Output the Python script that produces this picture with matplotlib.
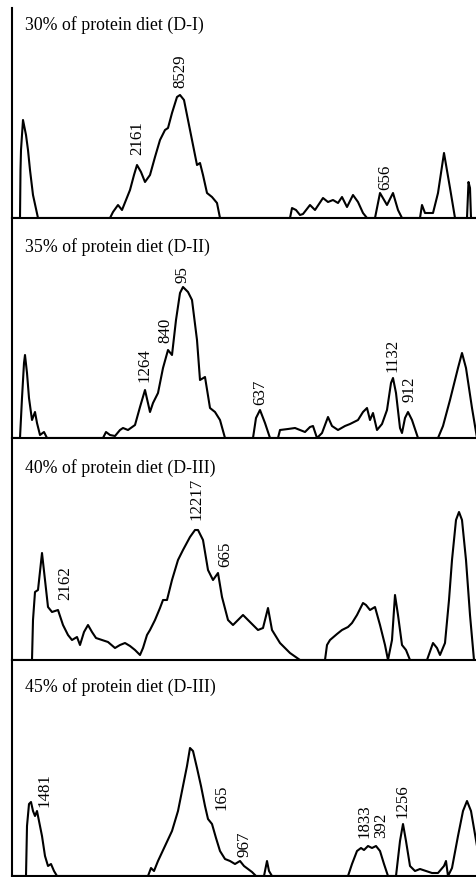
import numpy as np
import matplotlib
matplotlib.use("Agg")
from matplotlib import pyplot as plt

# retention position (px along the run) and trace height for each diet
x1 = [12, 20, 20.5, 21, 23, 26, 28, 30, 33, 38,
      110, 113, 118, 122, 126, 130, 134, 137, 141, 145, 150, 155, 160, 165, 168, 172, 177, 180, 184, 190,
      197, 200, 203, 207, 212, 217, 220,
      290, 292, 296, 300, 303, 310, 315, 323, 328, 333, 338, 342, 347, 353, 358, 363, 367,
      375, 380, 387, 393, 398, 402,
      420, 422, 425, 433, 438, 444, 450, 455,
      467, 468.5, 470, 471, 477]
y1 = [0, 0, 48, 68, 98, 83, 68, 48, 23, 0,
      0, 6, 13, 8, 18, 28, 43, 53, 46, 36, 43, 61, 78, 88, 90, 105, 121, 123, 118, 88,
      53, 55, 43, 25, 21, 15, 0,
      0, 10, 8, 3, 4, 13, 8, 20, 16, 18, 15, 21, 11, 23, 16, 5, 0,
      0, 25, 13, 25, 8, 0,
      0, 13, 5, 5, 25, 65, 30, 0,
      0, 36, 30, 0, 0]

x2 = [12, 20, 22, 24, 25, 27, 29, 32, 35, 37, 40, 44, 47,
      103, 106, 110, 115, 120, 123, 128, 135, 140, 145, 150, 153, 158, 163, 168, 172, 176, 180, 183, 188,
      192, 197, 200, 205, 210, 215, 220, 225,
      253, 256, 260, 265, 270,
      278, 280, 288, 295, 300, 305, 310, 313, 317,
      322, 328, 332, 338, 345, 350, 358, 363, 367, 370, 373, 377, 382, 387, 391, 393, 396, 400, 402, 405,
      408, 412, 418,
      438, 443, 450, 458, 462, 466, 472, 477]
y2 = [0, 0, 40, 75, 83, 65, 40, 18, 26, 15, 3, 6, 0,
      0, 6, 3, 2, 8, 10, 8, 13, 31, 48, 26, 35, 45, 70, 88, 83, 118, 145, 151, 146,
      138, 98, 58, 61, 30, 26, 18, 0,
      0, 20, 28, 15, 0,
      0, 8, 9, 10, 8, 6, 11, 12, 0,
      5, 21, 12, 8, 12, 14, 18, 26, 30, 18, 25, 8, 14, 28, 55, 60, 45, 10, 5, 20,
      26, 18, 0,
      0, 12, 38, 70, 85, 70, 30, 0]

x3 = [12, 32, 33, 35, 38, 42, 45, 48, 52, 58, 63, 68, 72, 77, 80, 84, 88, 92, 96, 102, 108, 115, 120,
      125, 130, 135, 140, 143, 147, 150, 155, 160, 163, 167, 172, 178, 183, 190, 195, 198, 203, 208, 213,
      218, 222, 228, 233, 238, 243, 250, 258, 263, 268, 272, 280, 290, 300,
      325, 327, 330, 337, 342, 348, 352, 357, 363, 366, 370, 375, 380, 385, 388,
      392, 395, 398, 402, 406, 410,
      427, 433, 437, 440, 445, 449, 452, 456, 459, 462, 466, 470, 474, 477]
y3 = [0, 0, 40, 68, 70, 107, 80, 53, 48, 50, 35, 25, 20, 23, 15, 28, 35, 28, 22, 20, 18, 12, 15,
      17, 14, 10, 5, 12, 25, 30, 40, 52, 60, 60, 80, 100, 110, 123, 130, 130, 120, 90, 80,
      87, 63, 40, 35, 40, 45, 38, 30, 32, 52, 30, 17, 7, 0,
      0, 15, 20, 26, 30, 33, 37, 45, 57, 55, 50, 53, 35, 15, 0,
      20, 65, 45, 15, 10, 0,
      0, 17, 12, 5, 17, 60, 100, 140, 148, 140, 100, 45, 0, 0]

x4 = [12, 26, 27, 29, 31, 33, 35, 37, 39, 42, 45, 48, 51, 54, 57,
      148, 151, 154, 158, 165, 172, 178, 183, 187, 190, 193, 197, 201, 205, 208, 212, 216, 220, 225, 230,
      235, 240, 244, 248, 252, 256,
      264, 267, 269, 272,
      348, 352, 357, 361, 364, 368, 372, 376, 380, 384, 388,
      396, 400, 403, 406, 410, 415, 420, 426, 432, 438, 444, 446, 448, 452, 458, 463, 467, 471, 477]
y4 = [0, 0, 50, 72, 74, 65, 60, 65, 55, 40, 20, 10, 12, 5, 0,
      0, 8, 5, 15, 30, 45, 65, 90, 110, 128, 125, 108, 90, 70, 57, 52, 38, 25, 17, 15,
      12, 15, 10, 7, 4, 0,
      0, 15, 5, 0,
      0, 12, 25, 28, 26, 30, 28, 30, 25, 12, 0,
      0, 35, 52, 35, 10, 5, 7, 5, 3, 3, 10, 15, 0, 8, 40, 65, 75, 65, 30]

titles = ["30% of protein diet (D-I)", "35% of protein diet (D-II)",
          "40% of protein diet (D-III)", "45% of protein diet (D-III)"]

# peak annotations: text, position, height of the label's lower end
peaks1 = [("2161", 137, 63), ("8529", 180, 130), ("656", 385, 28)]
peaks2 = [("1264", 145, 56), ("840", 165, 95), ("95", 183, 155), ("637", 260, 33),
          ("1132", 393, 66), ("912", 410, 36)]
peaks3 = [("2162", 65, 60), ("12217", 197, 140), ("665", 225, 93)]
peaks4 = [("1481", 45, 69), ("165", 222, 66), ("967", 245, 19), ("1833", 365, 38),
          ("392", 381, 38), ("1256", 403, 58)]

W, H = 477, 877
# panel (top px, baseline px)
panels = [(8, 218), (218, 438), (438, 660), (660, 876)]
title_y = [193, 191, 192, 189]

fig = plt.figure(figsize=(W / 100, H / 100), dpi=100)
font = "Liberation Serif"

data = [(x1, y1, peaks1), (x2, y2, peaks2), (x3, y3, peaks3), (x4, y4, peaks4)]
for i, (xs, ys, pk) in enumerate(data):
    top, base = panels[i]
    ax = fig.add_axes([12 / W, 1 - base / H, (W - 12) / W, (base - top) / H])
    ax.plot(xs, ys, color="black", lw=1.5, solid_joinstyle="round")
    ax.set_xlim(12, 477)
    ax.set_ylim(0, base - top)
    for s in ["top", "right"]:
        ax.spines[s].set_visible(False)
    for s in ["left", "bottom"]:
        ax.spines[s].set_linewidth(1.5)
    ax.set_xticks([])
    ax.set_yticks([])
    ax.patch.set_alpha(0)
    ax.text(25, title_y[i], titles[i], family=font, fontsize=12.8, ha="left", va="center")
    for lab, px, py in pk:
        ax.text(px, py, lab, family=font, fontsize=12.2, rotation=90, ha="center", va="bottom")

fig.savefig("out.png", dpi=100)
